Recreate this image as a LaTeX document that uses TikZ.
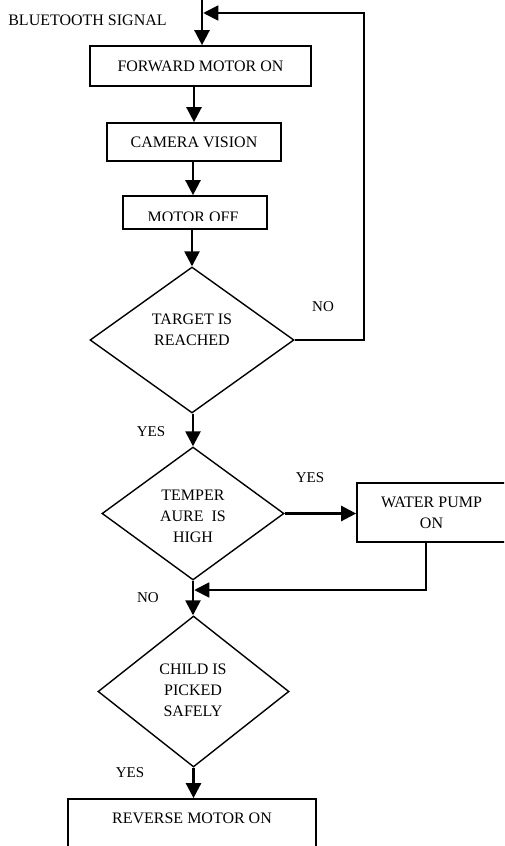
\documentclass[tikz,border=0pt]{standalone}
\usepackage{fontspec}
\setmainfont{Liberation Serif}
\usetikzlibrary{arrows.meta,shapes.geometric}
\begin{document}
\begin{tikzpicture}[x=1pt,y=-1pt,
  box/.style={draw,line width=1.7pt,inner sep=0pt,anchor=center,font=\fontsize{16}{21}\selectfont,align=center},
  dia/.style={draw,diamond,line width=1.4pt,inner sep=0pt,anchor=center},
  txt/.style={font=\fontsize{16}{21}\selectfont,align=center,inner sep=0pt},
  lbl/.style={font=\fontsize{15}{18}\selectfont,inner sep=0pt},
  tip/.style={-{Triangle[length=15pt,width=15pt]}},
  arr/.style={line width=2.5pt,tip},
  flow/.style={line width=1.8pt},
]
\useasboundingbox (0,0) rectangle (504,846);
\clip (0,0) rectangle (504,846);

% boxes
\node[box,minimum width=221pt,minimum height=40pt] (fwd) at (200.5,66) {FORWARD MOTOR ON};
\node[box,minimum width=174pt,minimum height=38pt] (cam) at (194,142) {CAMERA VISION};
\node[box,minimum width=144pt,minimum height=33pt] (moff) at (195,212.5) {};
\begin{scope}
  \clip (123,196) rectangle (267,220);
  \node[txt,anchor=base] (mofft) at (193,222.6) {MOTOR OFF};
\end{scope}

% diamonds
\node[dia,minimum width=204pt,minimum height=146pt] (d1) at (192,340) {};
\node[txt] (d1t) at (192,330) {TARGET IS\\REACHED};
\node[dia,minimum width=182pt,minimum height=133pt] (d2) at (193,513.5) {};
\node[txt] (d2t) at (193,516) {TEMPER\\AURE~\ IS\\HIGH};
\node[dia,minimum width=191pt,minimum height=151pt] (d3) at (193.5,691.5) {};
\node[txt] (d3t) at (193,690) {CHILD IS\\PICKED\\SAFELY};

\node[box,minimum width=149pt,minimum height=59pt] (water) at (431.5,512.5) {WATER PUMP\\ON};
\node[box,minimum width=248pt,minimum height=71pt] (rev) at (192,834.5) {};
\node[txt] (revt) at (192,818) {REVERSE MOTOR ON};

% labels
\node[txt] (bt) at (87.5,20) {BLUETOOTH SIGNAL};
\node[lbl] (no1) at (323,307) {NO};
\node[lbl] (yes1) at (151,432) {YES};
\node[lbl] (yes2) at (310,478) {YES};
\node[lbl] (no2) at (148,598) {NO};
\node[lbl] (yes3) at (130,773) {YES};

% connectors
\coordinate (start) at (202,0);
\draw[arr] (start) -- (start |- fwd.north);
\draw[arr] (cam.north |- fwd.south) -- (cam.north);
\draw[arr] ([xshift=-2pt]moff.north |- cam.south) -- ([xshift=-2pt]moff.north);
\draw[arr] (d1.north |- moff.south) -- (d1.north);
\coordinate (fb) at (364,13);
\draw[flow,tip] (d1.east) -| (fb) -- ([xshift=1.25pt]start |- fb);
\draw[arr] (d2.north |- d1.south) -- (d2.north);
\draw[arr] (d2.east) -- (d2.east -| water.west);
\coordinate (wb) at (426,590);
\draw[flow,tip] (water.south -| wb) -- (wb) -- ([xshift=1.25pt]d2.south |- wb);
\draw[arr] (d2.south) -- (d2.south |- d3.north);
\draw[arr] (d3.south) -- (d3.south |- rev.north);
\end{tikzpicture}
\end{document}
